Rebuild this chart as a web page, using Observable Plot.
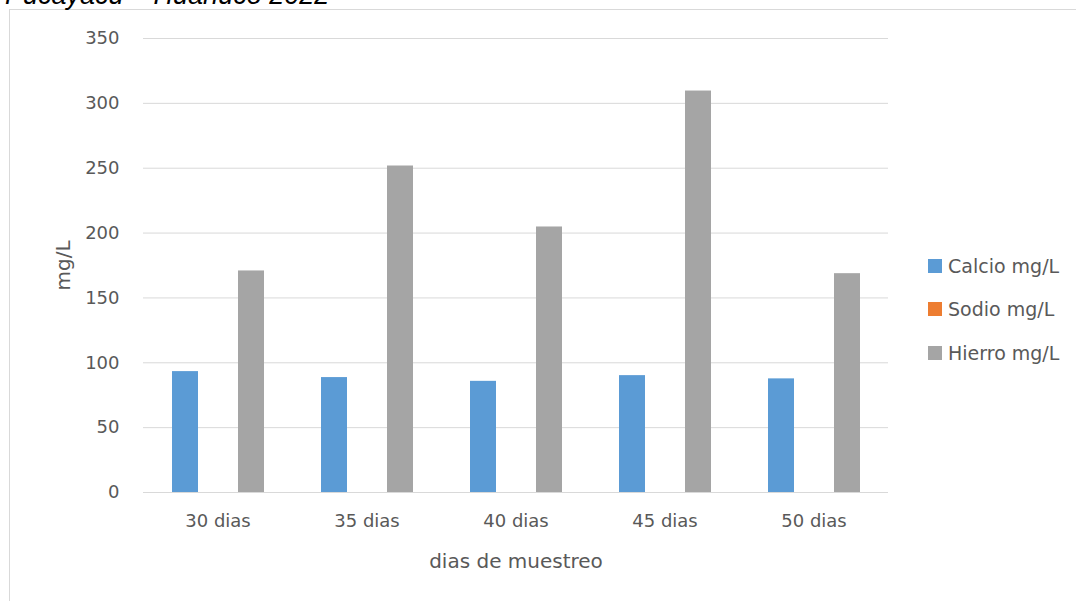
<!DOCTYPE html>
<html>
<head>
<meta charset="utf-8">
<script src="https://cdn.jsdelivr.net/npm/d3@7"></script>
<script src="https://cdn.jsdelivr.net/npm/@observablehq/plot@0.6"></script>
<style>
  html, body { margin: 0; padding: 0; background: #fff; }
  #wrap { position: relative; width: 1076px; height: 601px; overflow: hidden; background: #fff; }
  #border { position: absolute; left: 9px; top: 9px; right: 0; bottom: -5px; border-left: 1px solid #d9d9d9; border-top: 1px solid #d9d9d9; }
  #title { position: absolute; left: 5px; top: -18px; font-family: "Liberation Sans", Arial, sans-serif; font-style: italic; font-size: 27px; line-height: 27px; color: #000; white-space: nowrap; }
  #chart { position: absolute; left: 0; top: 0; }
  #legend { position: absolute; left: 928px; top: 0; font-family: "DejaVu Sans", sans-serif; font-size: 19px; color: #595959; }
  .item { position: absolute; left: 0; white-space: nowrap; display: flex; align-items: center; }
  .sw { width: 14px; height: 14px; margin-right: 6px; display: inline-block; }
</style>
</head>
<body>
<div id="wrap">
  <div id="border"></div>
  <div id="title">Pucayacu – Huánuco 2022</div>
  <div id="chart"></div>
  <div id="legend"></div>
</div>
<script>
const categories = ["30 dias", "35 dias", "40 dias", "45 dias", "50 dias"];
const series = ["Calcio mg/L", "Sodio mg/L", "Hierro mg/L"];
const calcio = [93.2, 88.6, 85.7, 90.1, 87.6];
const sodio = [0, 0, 0, 0, 0];
const hierro = [170.8, 251.7, 204.7, 309.5, 168.7];
const yTicks = [0, 50, 100, 150, 200, 250, 300, 350];
const colors = ["#5B9BD5", "#ED7D31", "#A5A5A5"];

const values = [calcio, sodio, hierro];
const data = [];
categories.forEach((c, i) => {
  series.forEach((s, j) => data.push({cat: c, series: s, value: values[j][i]}));
});

const chart = Plot.plot({
  width: 1076,
  height: 601,
  marginLeft: 141,
  marginRight: 187,
  marginTop: 38,
  marginBottom: 109,
  style: {fontFamily: "DejaVu Sans, sans-serif", fontSize: "18px", color: "#595959", background: "transparent", overflow: "visible"},
  fx: {domain: categories, padding: 0},
  x: {domain: series, paddingInner: 0.224, paddingOuter: 0.833, axis: null},
  y: {domain: [0, 350]},
  color: {domain: series, range: colors},
  marks: [
    Plot.gridY(yTicks, {stroke: "#d9d9d9", strokeOpacity: 1, strokeWidth: 1}),
    Plot.axisY(yTicks, {tickSize: 0, tickPadding: 24, label: "mg/L", labelArrow: "none", labelAnchor: "center", labelOffset: 88, fontSize: 18}),
    Plot.axisFx({anchor: "bottom", tickSize: 0, tickPadding: 22, label: "dias de muestreo", labelArrow: "none", labelAnchor: "center", labelOffset: 75, fontSize: 18}),
    Plot.barY(data, {fx: "cat", x: "series", y: "value", fill: "series"})
  ]
});
document.getElementById("chart").appendChild(chart);

chart.querySelectorAll("text").forEach(t => { t.setAttribute("fill", "#595959"); });
chart.querySelectorAll('[aria-label="y-axis label"], [aria-label="fx-axis label"]').forEach(g => {
  g.setAttribute("font-size", "20");
  g.querySelectorAll("text").forEach(t => t.setAttribute("font-size", "20"));
});

const legend = document.getElementById("legend");
const legendY = [266, 309, 353];
series.forEach((s, j) => {
  const d = document.createElement("div");
  d.className = "item";
  d.style.top = (legendY[j] - 12) + "px";
  d.style.height = "24px";
  d.innerHTML = `<span class="sw" style="background:${colors[j]}"></span><span>${s}</span>`;
  legend.appendChild(d);
});
</script>
</body>
</html>
